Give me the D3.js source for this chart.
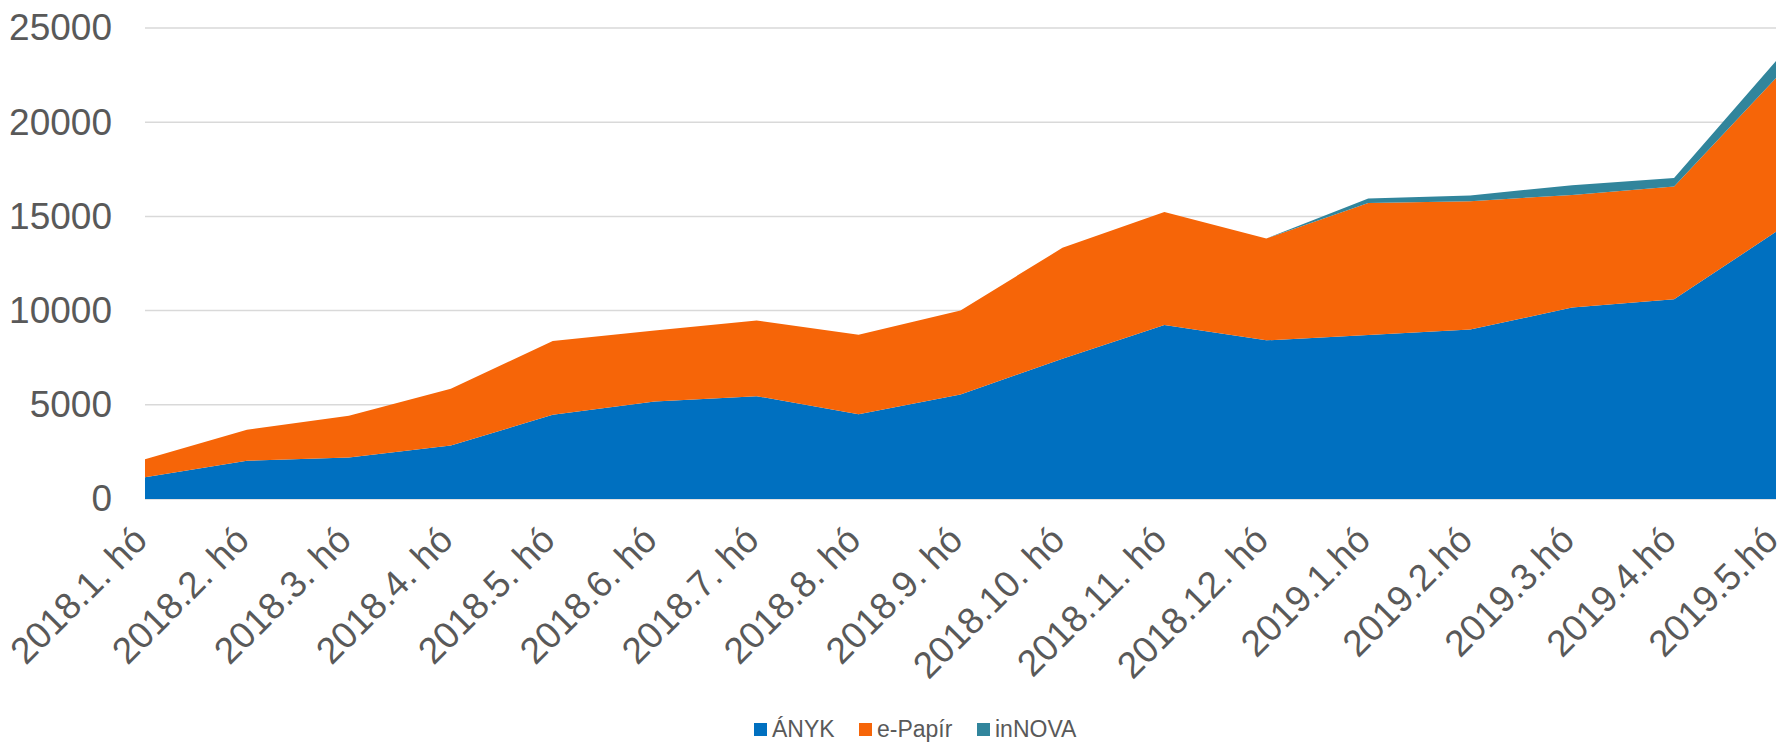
<!DOCTYPE html>
<html>
<head>
<meta charset="utf-8">
<script src="https://cdn.jsdelivr.net/npm/d3@7"></script>
<style>
  html, body { margin: 0; padding: 0; background: #fff; }
  svg { display: block; font-family: "Liberation Sans", Arial, sans-serif; }
</style>
</head>
<body>
<svg id="chart"></svg>
<script>
const months = [
  "2018.1. hó", "2018.2. hó", "2018.3. hó", "2018.4. hó", "2018.5. hó",
  "2018.6. hó", "2018.7. hó", "2018.8. hó", "2018.9. hó", "2018.10. hó",
  "2018.11. hó", "2018.12. hó", "2019.1.hó", "2019.2.hó", "2019.3.hó",
  "2019.4.hó", "2019.5.hó"
];
const anyk = [1160, 2030, 2200, 2840, 4470, 5180, 5460, 4500, 5550, 7450, 9230, 8420, 8700, 9000, 10160, 10600, 14180];
const ePapir = [950, 1650, 2220, 3010, 3920, 3760, 4010, 4220, 4460, 5880, 6010, 5410, 7010, 6810, 5980, 5990, 8170];
const innova = [0, 0, 0, 0, 0, 0, 0, 0, 0, 0, 0, 0, 240, 300, 520, 450, 900];
const seriesNames = ["ÁNYK", "e-Papír", "inNOVA"];
const colors = ["#0070C0", "#F66508", "#31859C"];
const yTicks = [0, 5000, 10000, 15000, 20000, 25000];

const width = 1785, height = 742;
const margin = { top: 28, right: 9, bottom: 243, left: 145 };

const svg = d3.select("#chart").attr("width", width).attr("height", height);

const rows = months.map((m, i) => ({
  month: m, "ÁNYK": anyk[i], "e-Papír": ePapir[i], "inNOVA": innova[i]
}));

const layers = d3.stack().keys(seriesNames)(rows);

const x = d3.scalePoint()
  .domain(months)
  .range([margin.left, width - margin.right]);

const y = d3.scaleLinear()
  .domain([0, 25000])
  .range([height - margin.bottom, margin.top]);

// gridlines
svg.append("g")
  .selectAll("line")
  .data(yTicks)
  .join("line")
  .attr("x1", margin.left)
  .attr("x2", width - margin.right)
  .attr("y1", (d) => y(d))
  .attr("y2", (d) => y(d))
  .attr("stroke", "#D9D9D9")
  .attr("stroke-width", 1.5);

const area = d3.area()
  .x((d) => x(d.data.month))
  .y0((d) => y(d[0]))
  .y1((d) => y(d[1]));

svg.append("g")
  .selectAll("path")
  .data(layers)
  .join("path")
  .attr("d", area)
  .attr("fill", (d, i) => colors[i]);

// y axis labels
const yAxis = d3.axisLeft(y)
  .tickValues(yTicks)
  .tickFormat(d3.format("d"))
  .tickSize(0)
  .tickPadding(33);

svg.append("g")
  .attr("transform", `translate(${margin.left},0)`)
  .call(yAxis)
  .call((g) => g.select(".domain").remove())
  .selectAll("text")
  .attr("fill", "#595959")
  .attr("font-size", 37)
  .attr("font-family", "Liberation Sans, Arial, sans-serif");

// x axis labels, rotated
svg.append("g")
  .selectAll("text")
  .data(months)
  .join("text")
  .attr("transform", (d) => `translate(${x(d) - 14},${height - margin.bottom + 25}) rotate(-45)`)
  .attr("text-anchor", "end")
  .attr("dy", "0.7em")
  .attr("fill", "#595959")
  .attr("font-size", 37)
  .text((d) => d);

// legend
const legendX = [754, 859, 977];
const legend = svg.append("g");
seriesNames.forEach((name, i) => {
  legend.append("rect")
    .attr("x", legendX[i])
    .attr("y", 723)
    .attr("width", 13)
    .attr("height", 13)
    .attr("fill", colors[i]);
  legend.append("text")
    .attr("x", legendX[i] + 18)
    .attr("y", 737)
    .attr("fill", "#595959")
    .attr("font-size", 23)
    .text(name);
});
</script>
</body>
</html>
